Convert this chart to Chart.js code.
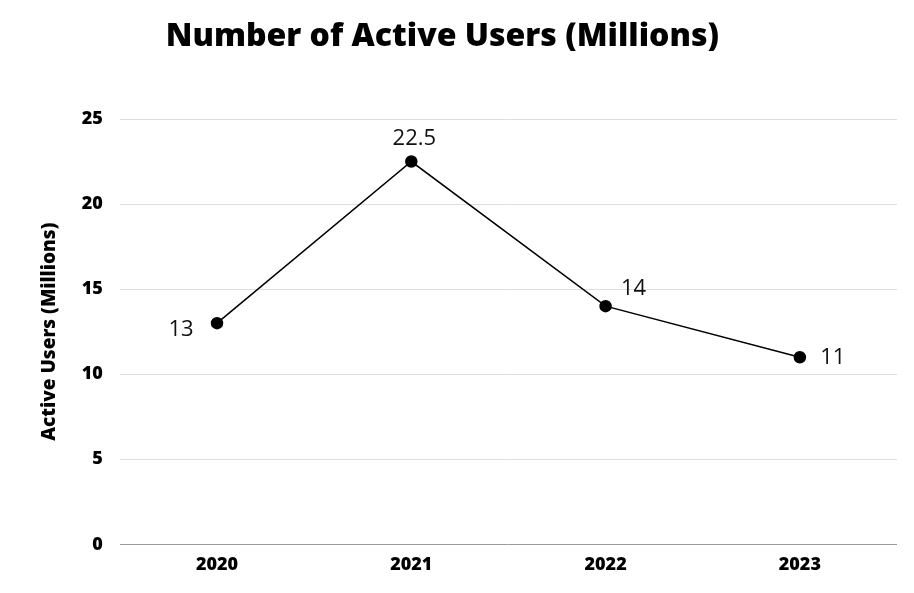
<!DOCTYPE html>
<html>
<head>
<meta charset="utf-8">
<script src="https://cdn.jsdelivr.net/npm/chart.js@4/dist/chart.umd.min.js"></script>
<style>
  html, body { margin: 0; padding: 0; background: #fff; }
  #wrap { width: 914px; height: 593px; }
</style>
</head>
<body>
<div id="wrap"><canvas id="usersChart"></canvas></div>
<script>
const years = ['2020', '2021', '2022', '2023'];
const activeUsers = [13, 22.5, 14, 11];
const yTicks = [0, 5, 10, 15, 20, 25];
const chartTitle = 'Number of Active Users (Millions)';

// where each value label sits relative to its point: [dx, dy]
const labelPlacement = [
    [-36, 7],
    [3, -23],
    [28, -17],
    [33, 1]
];

const FONT = "'Open Sans', 'DejaVu Sans', sans-serif";

const titleAndLabels = {
    id: 'titleAndLabels',
    afterDraw(chart) {
        const ctx = chart.ctx;
        ctx.save();
        ctx.fillStyle = '#000';
        ctx.font = `800 32px ${FONT}`;
        ctx.textAlign = 'center';
        ctx.textBaseline = 'middle';
        ctx.fillText(chartTitle, chart.width * 0.484, 37);
        ctx.restore();
    },
    afterDatasetsDraw(chart) {
        const ctx = chart.ctx;
        const meta = chart.getDatasetMeta(0);
        ctx.save();
        ctx.font = `400 22px ${FONT}`;
        ctx.fillStyle = '#111';
        ctx.textAlign = 'center';
        ctx.textBaseline = 'middle';
        meta.data.forEach((pt, i) => {
            const [dx, dy] = labelPlacement[i];
            ctx.fillText(String(activeUsers[i]), pt.x + dx, pt.y + dy);
        });
        ctx.restore();
    }
};

new Chart(document.getElementById('usersChart'), {
    type: 'line',
    data: {
        labels: years,
        datasets: [{
            data: activeUsers,
            borderColor: '#000',
            borderWidth: 1.5,
            backgroundColor: '#000',
            pointBackgroundColor: '#000',
            pointBorderColor: '#000',
            pointRadius: 5.5,
            tension: 0,
            fill: false
        }]
    },
    options: {
        responsive: true,
        maintainAspectRatio: false,
        animation: false,
        layout: { padding: { left: 38, right: 17, top: 119, bottom: 7 } },
        plugins: {
            legend: { display: false },
            tooltip: { enabled: false },
            title: { display: false }
        },
        scales: {
            x: {
                offset: true,
                grid: { display: false, drawTicks: false },
                border: { display: false },
                ticks: {
                    color: '#000',
                    padding: 10,
                    font: { family: FONT, size: 18, weight: '800' }
                }
            },
            y: {
                min: 0,
                max: 25,
                afterBuildTicks(axis) {
                    axis.ticks = yTicks.map(v => ({ value: v }));
                },
                grid: {
                    drawTicks: false,
                    color: ctx => ctx.tick.value === 0 ? '#9a9a9a' : '#dedede',
                    lineWidth: 1
                },
                border: { display: false },
                ticks: {
                    color: '#000',
                    padding: 17,
                    font: { family: FONT, size: 18, weight: '800' }
                },
                title: {
                    display: true,
                    text: 'Active Users (Millions)',
                    color: '#000',
                    padding: { top: 0, bottom: 4 },
                    font: { family: FONT, size: 19, weight: '800' }
                }
            }
        }
    },
    plugins: [titleAndLabels]
});
</script>
</body>
</html>
